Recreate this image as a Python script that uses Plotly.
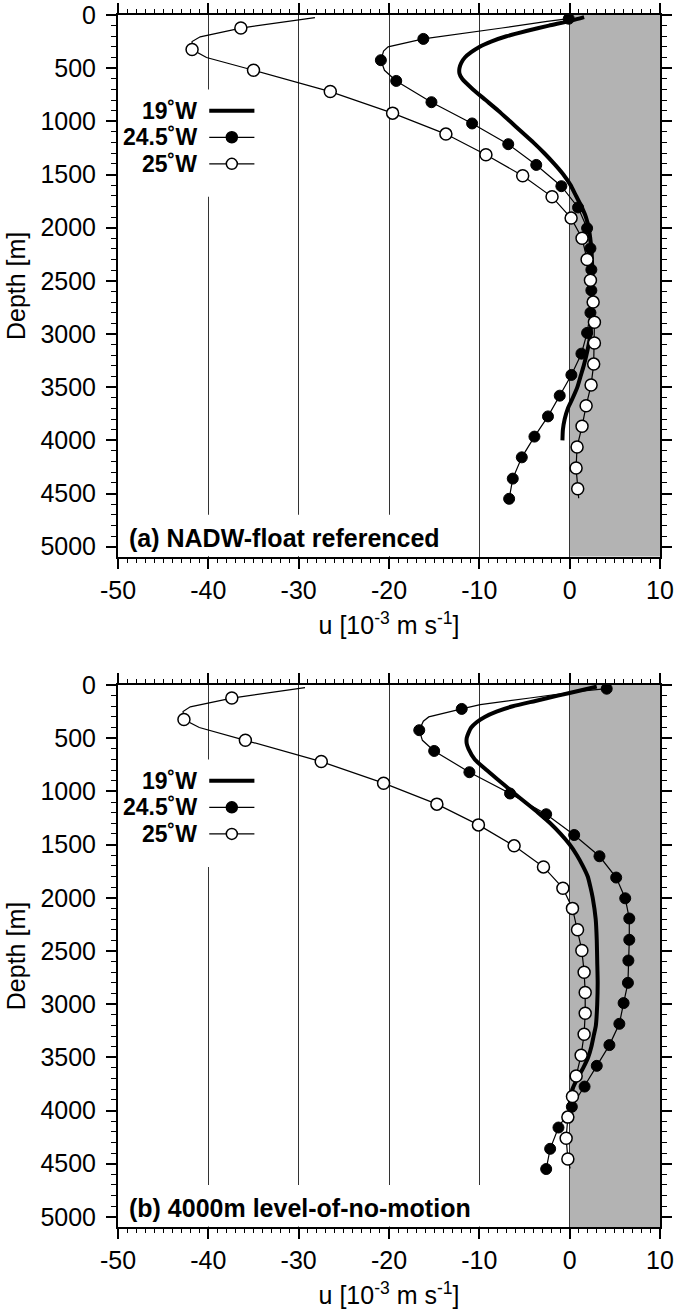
import plotly.graph_objects as go

# ---------------- data ----------------
# (a) NADW-float referenced
a19_depth = [20, 50, 100, 150, 200, 250, 300, 350, 400, 450, 500, 550, 600, 700, 800, 900, 1000,
             1100, 1200, 1300, 1400, 1500, 1600, 1700, 1800, 1900, 2000, 2200, 2400, 2600, 2800,
             3000, 3100, 3200, 3300, 3400, 3500, 3600, 3700, 3800, 3900, 4000]
a19_u = [1.6, 0.3, -2.3, -4.8, -7.0, -8.7, -10.0, -10.9, -11.6, -12.0, -12.2, -12.2, -11.9, -10.7,
         -9.3, -7.9, -6.6, -5.3, -4.0, -2.8, -1.7, -0.7, 0.1, 0.7, 1.3, 1.8, 2.1, 2.4, 2.5, 2.5,
         2.45, 2.3, 2.1, 1.85, 1.55, 1.2, 0.85, 0.35, -0.2, -0.55, -0.75, -0.8]

a245_mdepth = [35, 225, 425, 620, 820, 1020, 1215, 1410, 1610, 1810, 2005, 2195, 2395, 2590,
               2800, 2990, 3185, 3385, 3580, 3775, 3965, 4160, 4360, 4550]
a245_mu = [-0.1, -16.2, -20.9, -19.2, -15.3, -10.8, -6.8, -3.7, -0.92, 0.93, 1.93, 2.3, 2.4, 2.4,
           2.3, 1.93, 1.3, 0.19, -1.1, -2.4, -3.9, -5.3, -6.3, -6.7]
a245_ldepth = [35, 60, 122, 185, 225, 300, 340, 425, 520, 620, 820, 1020, 1215, 1410, 1610, 1810,
               2005, 2195, 2395, 2590, 2800, 2990, 3185, 3385, 3580, 3775, 3965, 4160, 4360, 4550]
a245_lu = [-0.1, -2.5, -7.5, -13.0, -16.2, -20.1, -20.6, -20.9, -20.5, -19.2, -15.3, -10.8, -6.8,
           -3.7, -0.92, 0.93, 1.93, 2.3, 2.4, 2.4, 2.3, 1.93, 1.3, 0.19, -1.1, -2.4, -3.9, -5.3,
           -6.3, -6.7]

a25_mdepth = [123, 325, 520, 720, 923, 1120, 1315, 1512, 1710, 1910, 2100, 2300, 2495, 2700,
              2890, 3085, 3283, 3480, 3675, 3868, 4062, 4260, 4455]
a25_mu = [-36.4, -41.8, -35.0, -26.5, -19.6, -13.7, -9.27, -5.2, -1.95, 0.16, 1.37, 1.93, 2.3,
          2.6, 2.74, 2.74, 2.66, 2.37, 1.82, 1.37, 0.82, 0.71, 0.89]
a25_ldepth = [25, 123, 205, 250, 325, 400, 520, 720, 923, 1120, 1315, 1512, 1710, 1910, 2100,
              2300, 2495, 2700, 2890, 3085, 3283, 3480, 3675, 3868, 4062, 4260, 4455, 4545]
a25_lu = [-28.2, -36.4, -40.9, -41.8, -41.8, -40.2, -35.0, -26.5, -19.6, -13.7, -9.27, -5.2,
          -1.95, 0.16, 1.37, 1.93, 2.3, 2.6, 2.74, 2.74, 2.66, 2.37, 1.82, 1.37, 0.82, 0.71,
          0.89, 1.0]

# (b) 4000m level-of-no-motion
b19_depth = [15, 50, 100, 150, 200, 250, 300, 350, 400, 450, 500, 550, 600, 700, 800, 900, 1000,
             1100, 1200, 1300, 1400, 1500, 1600, 1700, 1800, 1900, 2000, 2200, 2400, 2600, 2800,
             3000, 3200, 3300, 3400, 3500, 3600, 3700, 3800, 3900, 4000]
b19_u = [3.0, 1.3, -1.3, -3.8, -6.3, -8.1, -9.4, -10.3, -10.9, -11.2, -11.4, -11.4, -11.2, -10.5,
         -9.2, -7.8, -6.4, -4.95, -3.5, -2.15, -1.0, 0.0, 0.8, 1.45, 2.0, 2.3, 2.55, 2.88, 3.0,
         3.05, 3.1, 3.05, 2.9, 2.65, 2.4, 2.05, 1.5, 0.85, 0.3, 0.05, 0.0]

b245_mdepth = a245_mdepth
b245_mu = [4.1, -11.95, -16.65, -15.0, -11.1, -6.6, -2.6, 0.5, 3.3, 5.15, 6.15, 6.6, 6.6, 6.5,
           6.45, 5.97, 5.5, 4.4, 3.0, 1.65, 0.24, -1.24, -2.16, -2.6]
b245_ldepth = a245_ldepth
b245_lu = [4.1, 1.0, -4.4, -9.9, -11.95, -15.6, -16.2, -16.65, -16.3, -15.0, -11.1, -6.6, -2.6,
           0.5, 3.3, 5.15, 6.15, 6.6, 6.6, 6.5, 6.45, 5.97, 5.5, 4.4, 3.0, 1.65, 0.24, -1.24,
           -2.16, -2.6]

b25_mdepth = a25_mdepth
b25_mu = [-37.4, -42.7, -35.9, -27.5, -20.6, -14.7, -10.1, -6.15, -2.9, -0.75, 0.31, 0.87, 1.35,
          1.6, 1.72, 1.72, 1.6, 1.27, 0.72, 0.31, -0.2, -0.39, -0.2]
b25_ldepth = a25_ldepth
b25_lu = [-29.3, -37.4, -42.0, -42.8, -42.7, -41.0, -35.9, -27.5, -20.6, -14.7, -10.1, -6.15,
          -2.9, -0.75, 0.31, 0.87, 1.35, 1.6, 1.72, 1.72, 1.6, 1.27, 0.72, 0.31, -0.2, -0.39,
          -0.2, 0.05]

series_names = ["19˚W", "24.5˚W", "25˚W"]
panel_labels = ["(a) NADW-float referenced", "(b) 4000m level-of-no-motion"]
x_ticks = [-50, -40, -30, -20, -10, 0, 10]
x_ticktext = ["-50", "-40", "-30", "-20", "-10", "0", "10"]
y_ticks = [0, 500, 1000, 1500, 2000, 2500, 3000, 3500, 4000, 4500, 5000]
y_ticktext = ["0", "500", "1000", "1500", "2000", "2500", "3000", "3500", "4000", "4500", "5000"]

# ---------------- figure ----------------
FONT = "Liberation Sans"
fig = go.Figure()

panels = [
    ("x", "y", a19_depth, a19_u, a245_ldepth, a245_lu, a245_mdepth, a245_mu,
     a25_ldepth, a25_lu, a25_mdepth, a25_mu),
    ("x2", "y2", b19_depth, b19_u, b245_ldepth, b245_lu, b245_mdepth, b245_mu,
     b25_ldepth, b25_lu, b25_mdepth, b25_mu),
]

for (xa, ya, d19, u19, d245l, u245l, d245m, u245m, d25l, u25l, d25m, u25m) in panels:
    fig.add_trace(go.Scatter(x=u19, y=d19, mode="lines", xaxis=xa, yaxis=ya,
                             line=dict(color="black", width=4, shape="spline", smoothing=0.6),
                             showlegend=False, hoverinfo="skip"))
    fig.add_trace(go.Scatter(x=u245l, y=d245l, mode="lines", xaxis=xa, yaxis=ya,
                             line=dict(color="black", width=1.2), showlegend=False))
    fig.add_trace(go.Scatter(x=u245m, y=d245m, mode="markers", xaxis=xa, yaxis=ya,
                             marker=dict(color="black", size=11, line=dict(color="black", width=1)),
                             showlegend=False))
    fig.add_trace(go.Scatter(x=u25l, y=d25l, mode="lines", xaxis=xa, yaxis=ya,
                             line=dict(color="black", width=1.2), showlegend=False))
    fig.add_trace(go.Scatter(x=u25m, y=d25m, mode="markers", xaxis=xa, yaxis=ya,
                             marker=dict(color="white", size=12, line=dict(color="black", width=1.5)),
                             showlegend=False))

x_common = dict(range=[-50, 10], tickvals=x_ticks, ticktext=x_ticktext, automargin=False,
                showline=True, linecolor="black", linewidth=2,
                mirror="allticks", ticks="outside", ticklen=10, tickwidth=1.5, tickcolor="black",
                showgrid=True, gridcolor="#333333", gridwidth=1, zeroline=False,
                minor=dict(dtick=1, tick0=-50, ticks="outside", ticklen=4, tickwidth=1,
                           tickcolor="black", showgrid=False),
                tickfont=dict(family=FONT, size=25, color="black"),
                title=dict(text="u [10<sup>-3</sup> m s<sup>-1</sup>]",
                           font=dict(family=FONT, size=25, color="black"), standoff=14))
y_common = dict(range=[5095, 0], tickvals=y_ticks, ticktext=y_ticktext, automargin=False,
                showline=True, linecolor="black", linewidth=2,
                mirror="allticks", ticks="outside", ticklen=10, tickwidth=1.5, tickcolor="black",
                ticklabelstandoff=5,
                showgrid=False, zeroline=False,
                minor=dict(dtick=100, tick0=0, ticks="outside", ticklen=5, tickwidth=1,
                           tickcolor="black", showgrid=False),
                tickfont=dict(family=FONT, size=25, color="black"),
                title=dict(text="Depth [m]", font=dict(family=FONT, size=25, color="black"),
                           standoff=8))

fig.update_layout(
    template="none",
    width=677, height=1309,
    margin=dict(l=118, r=17, t=15, b=82, pad=0),
    paper_bgcolor="white", plot_bgcolor="white",
    font=dict(family=FONT, color="black"),
    showlegend=False,
    xaxis=dict(x_common, anchor="y", domain=[0, 1]),
    yaxis=dict(y_common, anchor="x", domain=[0.5530, 1.0]),
    xaxis2=dict(x_common, anchor="y2", domain=[0, 1]),
    yaxis2=dict(y_common, anchor="x2", domain=[0.0, 0.4472]),
)

shapes = []
annotations = []
label_box_right = [-11.0, -5.0]
leg_depths = [900, 1150, 1400]
for i, (xa, ya) in enumerate([("x", "y"), ("x2", "y2")]):
    # shaded eastward region
    shapes.append(dict(type="rect", xref=xa, yref=ya, x0=0, x1=10, y0=0, y1=5095,
                       fillcolor="#b3b3b3", line=dict(width=0), layer="below"))
    # white box behind legend (breaks grid line)
    shapes.append(dict(type="rect", xref=xa, yref=ya, x0=-49.8, x1=-35.5, y0=700, y1=1710,
                       fillcolor="white", line=dict(width=0), layer="between"))
    # white box behind panel label
    shapes.append(dict(type="rect", xref=xa, yref=ya, x0=-49.8, x1=label_box_right[i],
                       y0=4700, y1=5090, fillcolor="white", line=dict(width=0), layer="between"))
    # panel label
    annotations.append(dict(xref=xa, yref=ya, x=-49.0, y=4915, xanchor="left", yanchor="middle",
                            text="<b>" + panel_labels[i] + "</b>", showarrow=False,
                            font=dict(family=FONT, size=25, color="black")))
    # custom legend: text left, key right
    for j, name in enumerate(series_names):
        dy = leg_depths[j]
        annotations.append(dict(xref=xa, yref=ya, x=-41.0, y=dy, xanchor="right",
                                yanchor="middle", text="<b>" + name + "</b>", showarrow=False,
                                font=dict(family=FONT, size=23, color="black")))
        shapes.append(dict(type="line", xref=xa, yref=ya, x0=-39.9, x1=-34.9, y0=dy, y1=dy,
                           line=dict(color="black", width=4 if j == 0 else 1.2), layer="above"))
        if j > 0:
            shapes.append(dict(type="circle", xref=xa, yref=ya, xsizemode="pixel",
                               ysizemode="pixel", xanchor=-37.4, yanchor=dy,
                               x0=-5.5, x1=5.5, y0=-5.5, y1=5.5,
                               fillcolor="black" if j == 1 else "white",
                               line=dict(color="black", width=1.5), layer="above"))

fig.update_layout(shapes=shapes, annotations=annotations)
fig.write_html("out.html")
